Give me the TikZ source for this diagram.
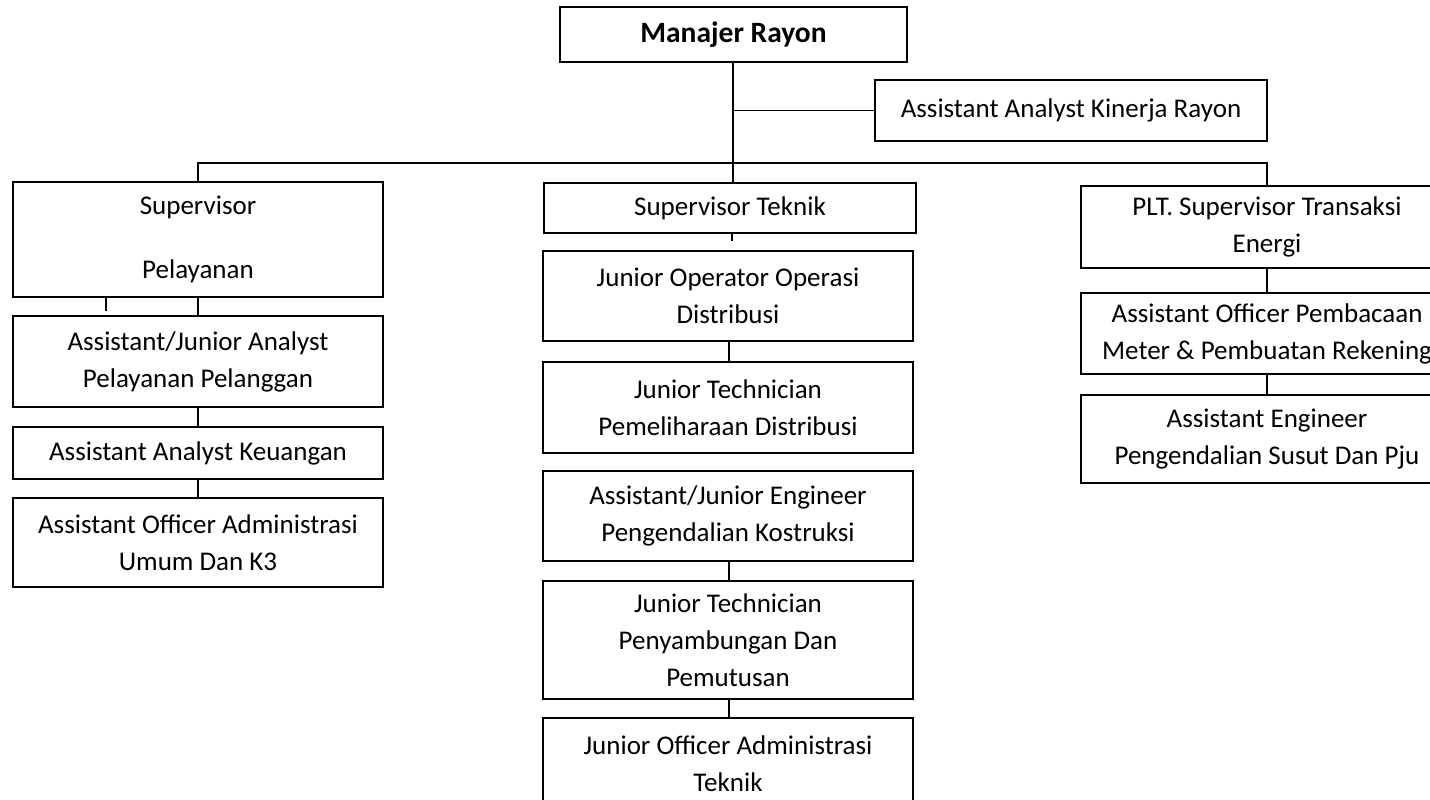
\documentclass[tikz,border=0pt]{standalone}
\usepackage{fontspec}
\setmainfont{Carlito}
\begin{document}
\begin{tikzpicture}[x=1pt,y=-1pt,
  box/.style={draw, line width=1.2pt, inner sep=0pt, align=center,
    font=\fontsize{27}{37}\selectfont},
  link/.style={line width=1.2pt}]
\useasboundingbox (0,0) rectangle (1430,800);
\newcommand\orgbox[6]{%
  \node[box, minimum width={#4-#2}, minimum height={#5-#3}]
    (#1) at ({(#2+#4)/2},{(#3+#5)/2}) {#6};}
% top
\orgbox{mr}{560}{7}{907}{62}{\fontsize{29.5}{37}\selectfont\textbf{Manajer Rayon}}
\orgbox{ak}{875}{80}{1267}{141}{Assistant Analyst Kinerja Rayon}
% left column
\orgbox{sp}{13}{182}{383}{297}{Supervisor\\[27pt]Pelayanan}
\orgbox{ajp}{13}{316}{383}{407}{Assistant/Junior Analyst\\Pelayanan Pelanggan}
\orgbox{aak}{13}{427}{383}{479}{Assistant Analyst Keuangan}
\orgbox{aoa}{13}{498}{383}{587}{Assistant Officer Administrasi\\Umum Dan K3}
% middle column
\orgbox{st}{544}{183}{916}{233}{Supervisor Teknik}
\orgbox{joo}{543}{251}{913}{341}{Junior Operator Operasi\\Distribusi}
\orgbox{jtp}{543}{362}{913}{453}{Junior Technician\\Pemeliharaan Distribusi}
\orgbox{aje}{543}{471}{913}{561}{Assistant/Junior Engineer\\Pengendalian Kostruksi}
\orgbox{jts}{543}{581}{913}{699}{Junior Technician\\Penyambungan Dan\\Pemutusan}
\orgbox{joa}{543}{718}{913}{810}{Junior Officer Administrasi\\Teknik}
% right column
\orgbox{pt}{1081}{186}{1453}{268}{PLT. Supervisor Transaksi\\Energi}
\orgbox{aop}{1081}{293}{1453}{374}{Assistant Officer Pembacaan\\Meter \& Pembuatan Rekening}
\orgbox{aep}{1081}{395}{1453}{483}{Assistant Engineer\\Pengendalian Susut Dan Pju}
% connectors
\coordinate (spine) at (733,62);
\draw[link] (spine) -- (spine |- st.north);
\draw[link] (spine |- ak.west) -- (ak.west);
\draw[link] (sp.north) -- (sp.north |- 0,163) -- (pt.north |- 0,163) -- (pt.north);
\coordinate (stubL) at (106,311);
\draw[link] (stubL |- sp.south) -- (stubL);
\draw[link] (sp.south) -- (sp.south |- ajp.north);
\draw[link] (ajp.south) -- (ajp.south |- aak.north);
\draw[link] (aak.south) -- (aak.south |- aoa.north);
\coordinate (stubM) at (732,241);
\draw[link] (stubM |- st.south) -- (stubM);
\draw[link] (729,341) coordinate (c1) -- (c1 |- jtp.north);
\draw[link] (729,561) coordinate (c2) -- (c2 |- jts.north);
\draw[link] (729,699) coordinate (c3) -- (c3 |- joa.north);
\draw[link] (pt.south) -- (pt.south |- aop.north);
\draw[link] (aop.south) -- (aop.south |- aep.north);
\end{tikzpicture}
\end{document}
